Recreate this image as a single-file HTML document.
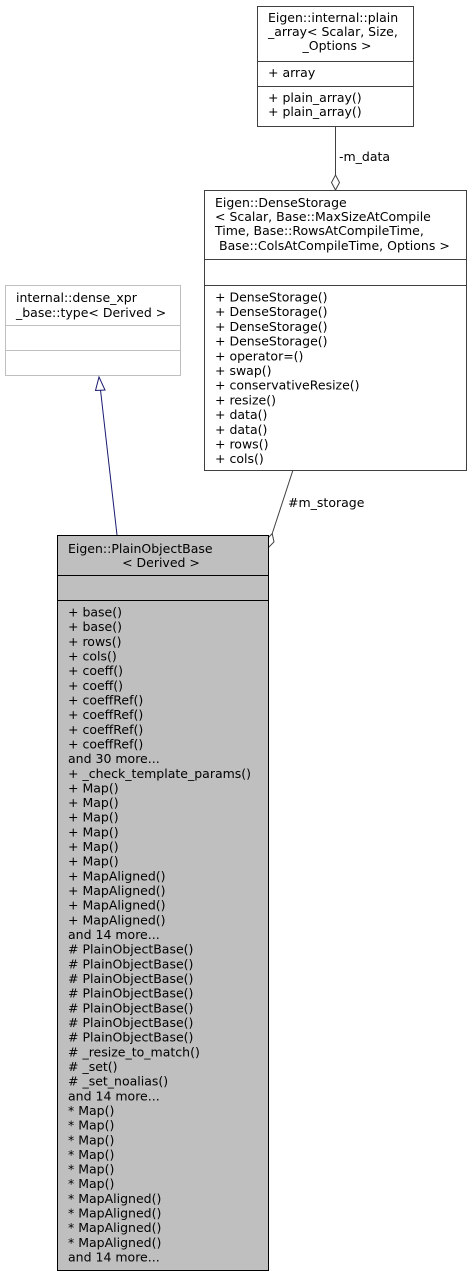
<!DOCTYPE html>
<html><head><meta charset="utf-8"><style>
html,body{margin:0;padding:0;background:#fff;}
svg text{font-family:"DejaVu Sans","Liberation Sans",sans-serif;font-size:12.5px;fill:#000;}
</style></head><body>
<svg width="472" height="1277" viewBox="0 0 472 1277" xmlns="http://www.w3.org/2000/svg">
<rect x="257.5" y="6.5" width="156" height="120" fill="#fff" stroke="#404040" stroke-width="1"/>
<line x1="257.5" y1="61.5" x2="413.5" y2="61.5" stroke="#404040"/>
<line x1="257.5" y1="86.5" x2="413.5" y2="86.5" stroke="#404040"/>
<text x="268" y="22">Eigen::internal::plain</text>
<text x="268" y="36">_array&lt; Scalar, Size,</text>
<text x="337" y="50" text-anchor="middle">_Options &gt;</text>
<text x="268" y="77">+ array</text>
<text x="268" y="102">+ plain_array()</text>
<text x="268" y="116">+ plain_array()</text>
<line x1="335.5" y1="127" x2="335.5" y2="175" stroke="#404040"/>
<polygon points="335.5,175 339.5,182.5 335.5,190 331.5,182.5" fill="#fff" stroke="#404040"/>
<text x="339" y="161">-m_data</text>
<rect x="204.5" y="190.5" width="262" height="280" fill="#fff" stroke="#404040"/>
<line x1="204.5" y1="259.5" x2="466.5" y2="259.5" stroke="#404040"/>
<line x1="204.5" y1="285.5" x2="466.5" y2="285.5" stroke="#404040"/>
<text x="215" y="207">Eigen::DenseStorage</text>
<text x="215" y="221">&lt; Scalar, Base::MaxSizeAtCompile</text>
<text x="215" y="235">Time, Base::RowsAtCompileTime,</text>
<text x="219" y="250">Base::ColsAtCompileTime, Options &gt;</text>
<g>
<text x="215" y="301.5">+ DenseStorage()</text>
<text x="215" y="316.2">+ DenseStorage()</text>
<text x="215" y="330.9">+ DenseStorage()</text>
<text x="215" y="345.6">+ DenseStorage()</text>
<text x="215" y="360.3">+ operator=()</text>
<text x="215" y="375">+ swap()</text>
<text x="215" y="389.7">+ conservativeResize()</text>
<text x="215" y="404.4">+ resize()</text>
<text x="215" y="419.1">+ data()</text>
<text x="215" y="433.8">+ data()</text>
<text x="215" y="448.5">+ rows()</text>
<text x="215" y="463.2">+ cols()</text>
</g>
<rect x="5.5" y="285.5" width="175" height="90" fill="#fff" stroke="#bfbfbf"/>
<line x1="5.5" y1="325.5" x2="180.5" y2="325.5" stroke="#bfbfbf"/>
<line x1="5.5" y1="350.5" x2="180.5" y2="350.5" stroke="#bfbfbf"/>
<text x="16" y="302">internal::dense_xpr</text>
<text x="16" y="317">_base::type&lt; Derived &gt;</text>
<line x1="100.5" y1="390" x2="117" y2="535" stroke="#191970"/>
<polygon points="99,377 105,390 95.5,390.5" fill="#fff" stroke="#191970"/>
<line x1="293" y1="470" x2="272.2" y2="533.6" stroke="#404040"/>
<polygon points="268,548 266.3,539.7 272.2,533.6 274,541.9" fill="#fff" stroke="#404040"/>
<text x="288" y="507">#m_storage</text>
<rect x="57.5" y="535.5" width="211" height="735" fill="#bfbfbf" stroke="#000"/>
<line x1="57.5" y1="575.5" x2="268.5" y2="575.5" stroke="#000"/>
<line x1="57.5" y1="600.5" x2="268.5" y2="600.5" stroke="#000"/>
<text x="68" y="553">Eigen::PlainObjectBase</text>
<text x="161" y="567" text-anchor="middle">&lt; Derived &gt;</text>
<g>
<text x="68" y="616.5">+ base()</text>
<text x="68" y="631.2">+ base()</text>
<text x="68" y="645.8">+ rows()</text>
<text x="68" y="660.5">+ cols()</text>
<text x="68" y="675.1">+ coeff()</text>
<text x="68" y="689.8">+ coeff()</text>
<text x="68" y="704.5">+ coeffRef()</text>
<text x="68" y="719.1">+ coeffRef()</text>
<text x="68" y="733.8">+ coeffRef()</text>
<text x="68" y="748.4">+ coeffRef()</text>
<text x="68" y="763.1">and 30 more...</text>
<text x="68" y="777.8">+ _check_template_params()</text>
<text x="68" y="792.4">+ Map()</text>
<text x="68" y="807.1">+ Map()</text>
<text x="68" y="821.7">+ Map()</text>
<text x="68" y="836.4">+ Map()</text>
<text x="68" y="851.1">+ Map()</text>
<text x="68" y="865.7">+ Map()</text>
<text x="68" y="880.4">+ MapAligned()</text>
<text x="68" y="895">+ MapAligned()</text>
<text x="68" y="909.7">+ MapAligned()</text>
<text x="68" y="924.4">+ MapAligned()</text>
<text x="68" y="939">and 14 more...</text>
<text x="68" y="953.7"># PlainObjectBase()</text>
<text x="68" y="968.3"># PlainObjectBase()</text>
<text x="68" y="983"># PlainObjectBase()</text>
<text x="68" y="997.7"># PlainObjectBase()</text>
<text x="68" y="1012.3"># PlainObjectBase()</text>
<text x="68" y="1027"># PlainObjectBase()</text>
<text x="68" y="1041.6"># PlainObjectBase()</text>
<text x="68" y="1056.3"># _resize_to_match()</text>
<text x="68" y="1071"># _set()</text>
<text x="68" y="1085.6"># _set_noalias()</text>
<text x="68" y="1100.3">and 14 more...</text>
<text x="68" y="1114.9">* Map()</text>
<text x="68" y="1129.6">* Map()</text>
<text x="68" y="1144.3">* Map()</text>
<text x="68" y="1158.9">* Map()</text>
<text x="68" y="1173.6">* Map()</text>
<text x="68" y="1188.2">* Map()</text>
<text x="68" y="1202.9">* MapAligned()</text>
<text x="68" y="1217.6">* MapAligned()</text>
<text x="68" y="1232.2">* MapAligned()</text>
<text x="68" y="1246.9">* MapAligned()</text>
<text x="68" y="1261.5">and 14 more...</text>
</g>
</svg>
</body></html>
